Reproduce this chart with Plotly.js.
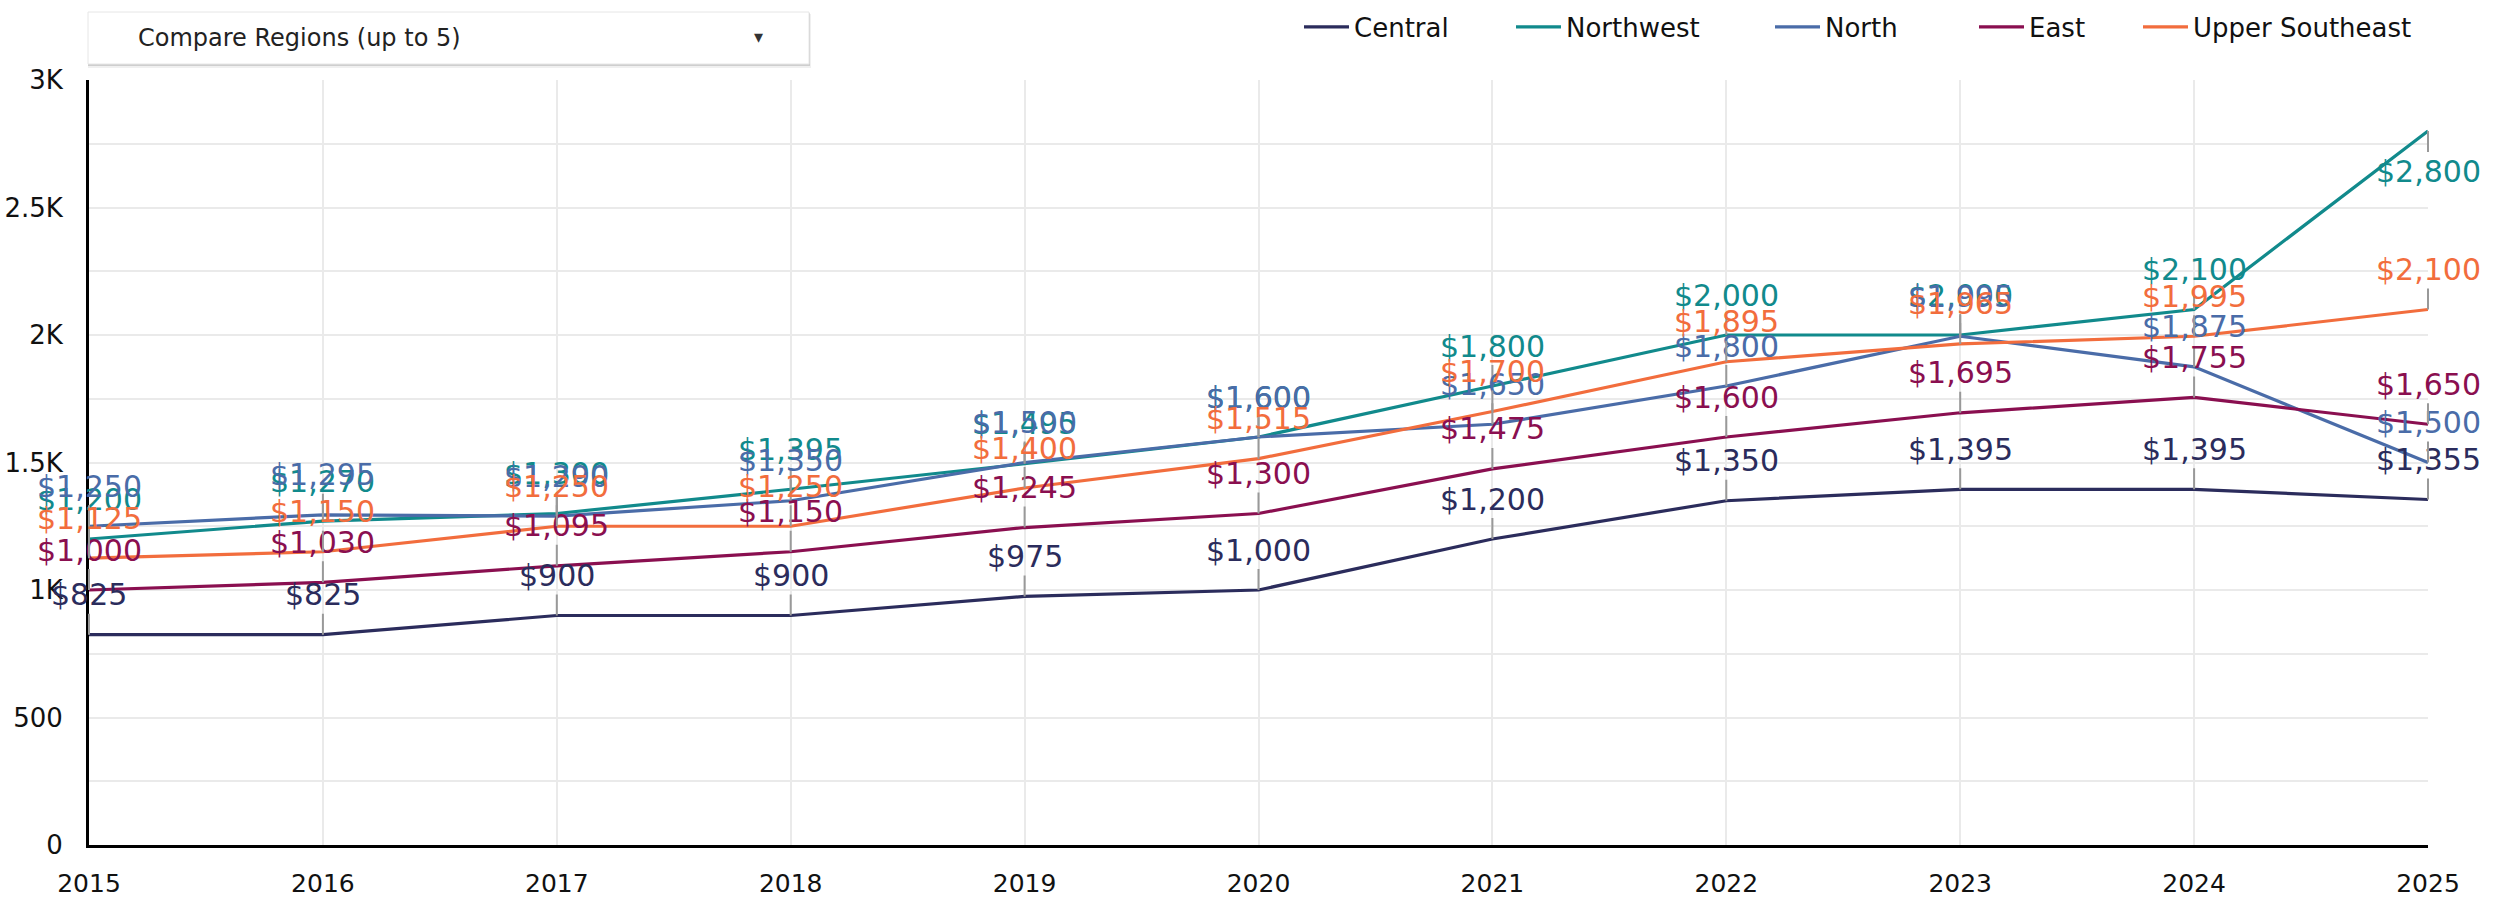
<!DOCTYPE html>
<html>
<head>
<meta charset="utf-8">
<script src="https://cdn.plot.ly/plotly-3.0.1.min.js"></script>
<style>
  html, body { margin: 0; padding: 0; background: #ffffff; }
  #chart { width: 2501px; height: 902px; }
</style>
</head>
<body>
<div id="chart"></div>
<script>
// ---- data ----
const years = [2015, 2016, 2017, 2018, 2019, 2020, 2021, 2022, 2023, 2024, 2025];
const seriesNames = ["Central", "Northwest", "North", "East", "Upper Southeast"];
const central   = [825, 825, 900, 900, 975, 1000, 1200, 1350, 1395, 1395, 1355];
const northwest = [1200, 1270, 1300, 1395, 1495, 1600, 1800, 2000, 2000, 2100, 2800];
const north     = [1250, 1295, 1290, 1350, 1500, 1600, 1650, 1800, 1995, 1875, 1500];
const east      = [1000, 1030, 1095, 1150, 1245, 1300, 1475, 1600, 1695, 1755, 1650];
const upperSE   = [1125, 1150, 1250, 1250, 1400, 1515, 1700, 1895, 1965, 1995, 2100];
const yTickVals = [0, 500, 1000, 1500, 2000, 2500, 3000];
const yTickText = ["0", "500", "1K", "1.5K", "2K", "2.5K", "3K"];
const dropdownLabel = "Compare Regions (up to 5)";

// ---- styling ----
const colors = ["#2b2c5c", "#118a8c", "#4a6ca8", "#8a0f50", "#f26d3d"];
const FONT = "DejaVu Sans, Open Sans, sans-serif";
const allSeries = [central, northwest, north, east, upperSE];
const yMax = 3000;

// plot-area pixel frame
const W = 2501, H = 902;
const L = 89, R = 2428, T = 80, B = 845;
const px = x => (x - L) / (R - L);
const py = y => (B - y) / (B - T);

// legend text start positions (px) for each entry
const legendTextX = [1359, 1571, 1830, 2034, 2198];
const legendIds = ["legend", "legend2", "legend3", "legend4", "legend5"];

const traces = allSeries.map((vals, i) => ({
  type: "scatter",
  mode: "lines",
  x: years,
  y: vals,
  name: seriesNames[i],
  legend: legendIds[i],
  line: { color: colors[i], width: 3.2 },
  hoverinfo: "skip"
}));

const fmt = v => "$" + v.toLocaleString("en-US");

const annotations = [];
allSeries.forEach((vals, i) => {
  vals.forEach((v, j) => {
    const below = v / yMax > 0.9;
    annotations.push({
      x: years[j], y: v, xref: "x", yref: "y",
      text: fmt(v),
      showarrow: true, arrowhead: 0, arrowwidth: 2, arrowcolor: "#999999",
      ax: 0, ay: below ? 40 : -40,
      font: { family: FONT, size: 30, color: colors[i] }
    });
  });
});

// dropdown-like control
const shapes = [
  { type: "rect", xref: "paper", yref: "paper", x0: px(88), x1: px(811), y0: py(68), y1: py(14),
    fillcolor: "rgba(0,0,0,0.06)", line: { width: 0 }, layer: "above" },
  { type: "rect", xref: "paper", yref: "paper", x0: px(88), x1: px(810), y0: py(66), y1: py(13),
    fillcolor: "rgba(0,0,0,0.14)", line: { width: 0 }, layer: "above" },
  { type: "rect", xref: "paper", yref: "paper", x0: px(88), x1: px(809), y0: py(64), y1: py(12),
    fillcolor: "#ffffff", line: { color: "#e6e6e6", width: 1 }, layer: "above" }
];
annotations.push({
  xref: "paper", yref: "paper", x: px(136), y: py(38), xanchor: "left", yanchor: "middle",
  text: dropdownLabel, showarrow: false,
  font: { family: FONT, size: 24, color: "#222222" }
});
annotations.push({
  xref: "paper", yref: "paper", x: px(758), y: py(37), xanchor: "center", yanchor: "middle",
  text: "▾", showarrow: false,
  font: { family: FONT, size: 18, color: "#333333" }
});

const layout = {
  width: W, height: H,
  margin: { l: L, r: W - R, t: T, b: H - B, pad: 0, autoexpand: false },
  paper_bgcolor: "#ffffff", plot_bgcolor: "#ffffff",
  showlegend: true,
  xaxis: {
    range: [2015, 2025], tickmode: "array", tickvals: years, ticktext: years.map(String),
    showgrid: true, gridcolor: "#eaeaea", gridwidth: 2,
    showline: true, linecolor: "#000000", linewidth: 3,
    zeroline: false, ticks: "", ticklabelstandoff: 14,
    tickfont: { family: FONT, size: 25, color: "#111111" },
    fixedrange: true
  },
  yaxis: {
    range: [0, yMax], tickmode: "array", tickvals: yTickVals, ticktext: yTickText,
    showgrid: true, gridcolor: "#eaeaea", gridwidth: 2,
    minor: { dtick: 250, showgrid: true, gridcolor: "#eaeaea", gridwidth: 2 },
    showline: true, linecolor: "#000000", linewidth: 3,
    zeroline: false, ticks: "", ticklabelstandoff: 18,
    tickfont: { family: FONT, size: 26, color: "#111111" },
    fixedrange: true
  },
  annotations: annotations,
  shapes: shapes,
  hovermode: false
};
legendIds.forEach((id, i) => {
  layout[id] = {
    orientation: "h",
    x: px(legendTextX[i] - 60), xanchor: "left",
    y: py(27), yanchor: "middle",
    font: { family: FONT, size: 26, color: "#111111" },
    itemwidth: 45, bgcolor: "rgba(0,0,0,0)", borderwidth: 0
  };
});

Plotly.newPlot("chart", traces, layout, { displayModeBar: false, staticPlot: true });
</script>
</body>
</html>
